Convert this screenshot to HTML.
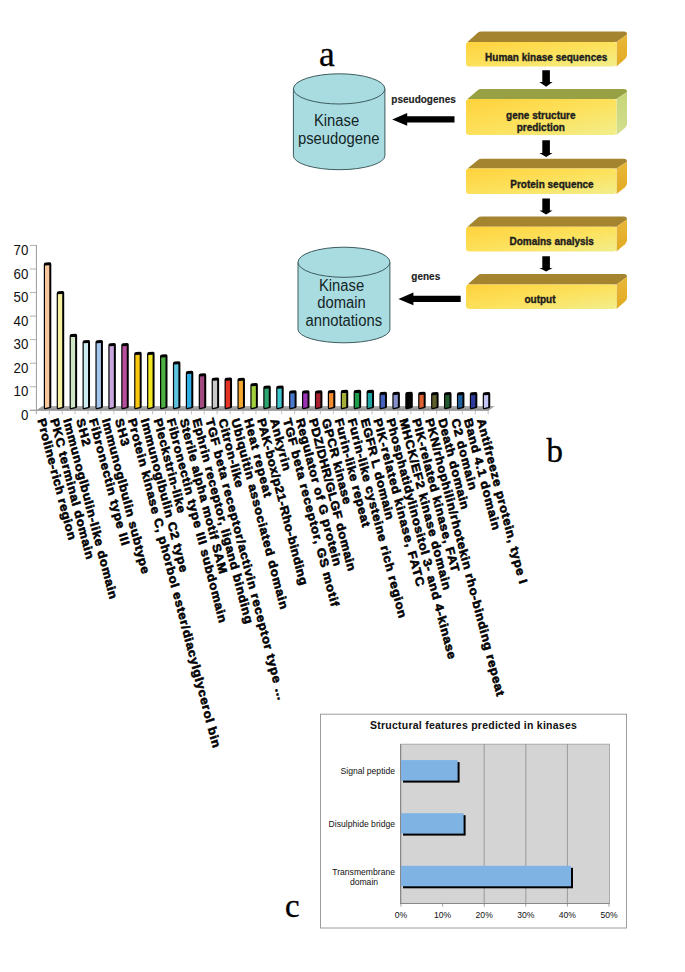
<!DOCTYPE html>
<html><head><meta charset="utf-8">
<style>
html,body{margin:0;padding:0;background:#fff;}
body{width:685px;height:972px;overflow:hidden;position:relative;font-family:"Liberation Sans",sans-serif;}
svg{position:absolute;left:0;top:0;}
</style></head>
<body>
<svg width="685" height="972" viewBox="0 0 685 972">
<defs>
<linearGradient id="fy" x1="0" y1="0" x2="1" y2="1">
<stop offset="0" stop-color="#FFD23C"/><stop offset="0.55" stop-color="#FCE25E"/><stop offset="1" stop-color="#F2EE8C"/>
</linearGradient>
<linearGradient id="sy" x1="0" y1="0" x2="0" y2="1">
<stop offset="0" stop-color="#E9B83A"/><stop offset="1" stop-color="#E2AA22"/>
</linearGradient>
<linearGradient id="sg" x1="0" y1="0" x2="0" y2="1">
<stop offset="0" stop-color="#C6D478"/><stop offset="1" stop-color="#D4E08E"/>
</linearGradient>
<linearGradient id="floor" x1="0" y1="0" x2="0" y2="1">
<stop offset="0" stop-color="#B4B4B4"/><stop offset="1" stop-color="#8C8C8C"/>
</linearGradient>
</defs>

<text x="319" y="65.6" font-family="Liberation Serif" font-size="35.5" fill="#000" stroke="#000" stroke-width="0.3">a</text>
<path d="M467.5,42.0 L478.0,32.6 Q479.0,31.4 481.5,31.4 L624.0,31.4 Q627.0,31.4 627.0,34.4 L616.5,42.0 Z" fill="#A4842F"/>
<path d="M616.5,42.0 L627.0,34.4 L627.0,54.9 Q627.0,56.9 625.0,58.9 L616.5,66.5 Z" fill="url(#sy)"/>
<rect x="466.0" y="42.0" width="150.5" height="24.5" rx="3" ry="3" fill="url(#fy)"/>
<text x="546.2" y="60.5" font-family="Liberation Sans" font-weight="bold" font-size="10" fill="#1c1c1c" stroke="#1c1c1c" stroke-width="0.35" text-anchor="middle">Human kinase sequences</text>
<path d="M467.5,99.0 L478.0,90.10000000000001 Q479.0,88.9 481.5,88.9 L624.0,88.9 Q627.0,88.9 627.0,91.9 L616.5,99.0 Z" fill="#97A042"/>
<path d="M616.5,99.0 L627.0,91.9 L627.0,123.9 Q627.0,125.9 625.0,127.9 L616.5,135.0 Z" fill="url(#sg)"/>
<rect x="466.0" y="99.0" width="150.5" height="36.0" rx="3" ry="3" fill="url(#fy)"/>
<text x="540.8" y="119.3" font-family="Liberation Sans" font-weight="bold" font-size="10" fill="#1c1c1c" stroke="#1c1c1c" stroke-width="0.35" text-anchor="middle">gene structure</text>
<text x="540.8" y="131.2" font-family="Liberation Sans" font-weight="bold" font-size="10" fill="#1c1c1c" stroke="#1c1c1c" stroke-width="0.35" text-anchor="middle">prediction</text>
<path d="M467.5,168.6 L478.0,160.0 Q479.0,158.8 481.5,158.8 L624.0,158.8 Q627.0,158.8 627.0,161.8 L616.5,168.6 Z" fill="#A4842F"/>
<path d="M616.5,168.6 L627.0,161.8 L627.0,183.20000000000002 Q627.0,185.20000000000002 625.0,187.20000000000002 L616.5,194.0 Z" fill="url(#sy)"/>
<rect x="466.0" y="168.6" width="150.5" height="25.400000000000006" rx="3" ry="3" fill="url(#fy)"/>
<text x="552.0" y="187.8" font-family="Liberation Sans" font-weight="bold" font-size="10" fill="#1c1c1c" stroke="#1c1c1c" stroke-width="0.35" text-anchor="middle">Protein sequence</text>
<path d="M467.5,226.7 L478.0,217.6 Q479.0,216.4 481.5,216.4 L624.0,216.4 Q627.0,216.4 627.0,219.4 L616.5,226.7 Z" fill="#A4842F"/>
<path d="M616.5,226.7 L627.0,219.4 L627.0,240.20000000000002 Q627.0,242.20000000000002 625.0,244.20000000000002 L616.5,251.5 Z" fill="url(#sy)"/>
<rect x="466.0" y="226.7" width="150.5" height="24.80000000000001" rx="3" ry="3" fill="url(#fy)"/>
<text x="551.7" y="245.3" font-family="Liberation Sans" font-weight="bold" font-size="10" fill="#1c1c1c" stroke="#1c1c1c" stroke-width="0.35" text-anchor="middle">Domains analysis</text>
<path d="M467.5,284.4 L478.0,275.3 Q479.0,274.1 481.5,274.1 L624.0,274.1 Q627.0,274.1 627.0,277.1 L616.5,284.4 Z" fill="#A4842F"/>
<path d="M616.5,284.4 L627.0,277.1 L627.0,297.6 Q627.0,299.6 625.0,301.6 L616.5,308.9 Z" fill="url(#sy)"/>
<rect x="466.0" y="284.4" width="150.5" height="24.5" rx="3" ry="3" fill="url(#fy)"/>
<text x="540.0" y="303.0" font-family="Liberation Sans" font-weight="bold" font-size="10" fill="#1c1c1c" stroke="#1c1c1c" stroke-width="0.35" text-anchor="middle">output</text>
<path d="M542.3,70.3 H549.9 V82.1 H552.6 L546.1,86.7 L539.4,82.1 H542.3 Z" fill="#000"/>
<path d="M542.3,140.2 H549.9 V153.0 H552.6 L546.1,156.9 L539.4,153.0 H542.3 Z" fill="#000"/>
<path d="M542.3,198.5 H549.9 V210.4 H552.6 L546.1,214.5 L539.4,210.4 H542.3 Z" fill="#000"/>
<path d="M542.3,256.2 H549.9 V267.9 H552.6 L546.1,271.6 L539.4,267.9 H542.3 Z" fill="#000"/>
<path d="M392.2,119.4 L407.2,113.0 V116.2 H454.5 V122.60000000000001 H407.2 V125.80000000000001 Z" fill="#000"/>
<path d="M398.4,298.9 L413.4,292.5 V295.7 H460.7 V302.09999999999997 H413.4 V305.29999999999995 Z" fill="#000"/>
<text x="391.3" y="103.4" font-family="Liberation Sans" font-weight="bold" font-size="10" fill="#1c1c1c" stroke="#1c1c1c" stroke-width="0.15">pseudogenes</text>
<text x="411.3" y="280.2" font-family="Liberation Sans" font-weight="bold" font-size="10" fill="#1c1c1c" stroke="#1c1c1c" stroke-width="0.15">genes</text>
<path d="M293.4,88.9 V155.7 A45.75,14.0 0 0 0 384.9,155.7 V88.9 Z" fill="#A9DCE1" stroke="#3D5B5E" stroke-width="1"/>
<ellipse cx="339.15" cy="88.9" rx="45.75" ry="15.100000000000001" fill="#A9DCE1" stroke="#3D5B5E" stroke-width="1"/>
<text transform="translate(336.55,126.1) scale(0.95,1)" font-family="Liberation Sans" font-size="15.6" fill="#142626" text-anchor="middle">Kinase</text>
<text transform="translate(338.65,143.6) scale(0.95,1)" font-family="Liberation Sans" font-size="15.6" fill="#142626" text-anchor="middle">pseudogene</text>
<path d="M298.0,262.25 V329.5 A45.94999999999999,13.3 0 0 0 389.9,329.5 V262.25 Z" fill="#A9DCE1" stroke="#3D5B5E" stroke-width="1"/>
<ellipse cx="343.95" cy="262.25" rx="45.94999999999999" ry="15.050000000000011" fill="#A9DCE1" stroke="#3D5B5E" stroke-width="1"/>
<text transform="translate(341.55,290.6) scale(0.95,1)" font-family="Liberation Sans" font-size="15.6" fill="#142626" text-anchor="middle">Kinase</text>
<text transform="translate(341.55,307.9) scale(0.95,1)" font-family="Liberation Sans" font-size="15.6" fill="#142626" text-anchor="middle">domain</text>
<text transform="translate(343.75,326.1) scale(0.95,1)" font-family="Liberation Sans" font-size="15.6" fill="#142626" text-anchor="middle">annotations</text>
<text x="546.4" y="461.9" font-family="Liberation Serif" font-size="32.9" fill="#000" stroke="#000" stroke-width="0.35">b</text>
<line x1="36.4" y1="413.8" x2="36.4" y2="245" stroke="#9a9a9a" stroke-width="1"/>
<line x1="29.9" y1="410.3" x2="36.4" y2="410.3" stroke="#a0a0a0" stroke-width="0.8"/>
<text transform="translate(28.3,419.80) scale(0.925,1)" font-family="Liberation Sans" font-size="14.4" fill="#111" text-anchor="end">0</text>
<line x1="29.9" y1="386.75" x2="36.4" y2="386.75" stroke="#a0a0a0" stroke-width="0.8"/>
<text transform="translate(28.3,396.25) scale(0.925,1)" font-family="Liberation Sans" font-size="14.4" fill="#111" text-anchor="end">10</text>
<line x1="29.9" y1="363.2" x2="36.4" y2="363.2" stroke="#a0a0a0" stroke-width="0.8"/>
<text transform="translate(28.3,372.70) scale(0.925,1)" font-family="Liberation Sans" font-size="14.4" fill="#111" text-anchor="end">20</text>
<line x1="29.9" y1="339.65" x2="36.4" y2="339.65" stroke="#a0a0a0" stroke-width="0.8"/>
<text transform="translate(28.3,349.15) scale(0.925,1)" font-family="Liberation Sans" font-size="14.4" fill="#111" text-anchor="end">30</text>
<line x1="29.9" y1="316.1" x2="36.4" y2="316.1" stroke="#a0a0a0" stroke-width="0.8"/>
<text transform="translate(28.3,325.60) scale(0.925,1)" font-family="Liberation Sans" font-size="14.4" fill="#111" text-anchor="end">40</text>
<line x1="29.9" y1="292.55" x2="36.4" y2="292.55" stroke="#a0a0a0" stroke-width="0.8"/>
<text transform="translate(28.3,302.05) scale(0.925,1)" font-family="Liberation Sans" font-size="14.4" fill="#111" text-anchor="end">50</text>
<line x1="29.9" y1="269.0" x2="36.4" y2="269.0" stroke="#a0a0a0" stroke-width="0.8"/>
<text transform="translate(28.3,278.50) scale(0.925,1)" font-family="Liberation Sans" font-size="14.4" fill="#111" text-anchor="end">60</text>
<line x1="29.9" y1="245.45000000000002" x2="36.4" y2="245.45000000000002" stroke="#a0a0a0" stroke-width="0.8"/>
<text transform="translate(28.3,254.95) scale(0.925,1)" font-family="Liberation Sans" font-size="14.4" fill="#111" text-anchor="end">70</text>
<path d="M36.4,410.3 L42.4,406.1 L495,406.1 L489,410.3 Z" fill="url(#floor)"/>
<line x1="29.9" y1="410.3" x2="489" y2="410.3" stroke="#9a9a9a" stroke-width="1"/>
<line x1="36.4" y1="410.3" x2="36.4" y2="414.3" stroke="#b0b0b0" stroke-width="0.8"/>
<line x1="49.3" y1="410.3" x2="49.3" y2="414.3" stroke="#b0b0b0" stroke-width="0.8"/>
<line x1="62.2" y1="410.3" x2="62.2" y2="414.3" stroke="#b0b0b0" stroke-width="0.8"/>
<line x1="75.1" y1="410.3" x2="75.1" y2="414.3" stroke="#b0b0b0" stroke-width="0.8"/>
<line x1="88.0" y1="410.3" x2="88.0" y2="414.3" stroke="#b0b0b0" stroke-width="0.8"/>
<line x1="100.9" y1="410.3" x2="100.9" y2="414.3" stroke="#b0b0b0" stroke-width="0.8"/>
<line x1="113.9" y1="410.3" x2="113.9" y2="414.3" stroke="#b0b0b0" stroke-width="0.8"/>
<line x1="126.8" y1="410.3" x2="126.8" y2="414.3" stroke="#b0b0b0" stroke-width="0.8"/>
<line x1="139.7" y1="410.3" x2="139.7" y2="414.3" stroke="#b0b0b0" stroke-width="0.8"/>
<line x1="152.6" y1="410.3" x2="152.6" y2="414.3" stroke="#b0b0b0" stroke-width="0.8"/>
<line x1="165.5" y1="410.3" x2="165.5" y2="414.3" stroke="#b0b0b0" stroke-width="0.8"/>
<line x1="178.4" y1="410.3" x2="178.4" y2="414.3" stroke="#b0b0b0" stroke-width="0.8"/>
<line x1="191.3" y1="410.3" x2="191.3" y2="414.3" stroke="#b0b0b0" stroke-width="0.8"/>
<line x1="204.2" y1="410.3" x2="204.2" y2="414.3" stroke="#b0b0b0" stroke-width="0.8"/>
<line x1="217.1" y1="410.3" x2="217.1" y2="414.3" stroke="#b0b0b0" stroke-width="0.8"/>
<line x1="230.1" y1="410.3" x2="230.1" y2="414.3" stroke="#b0b0b0" stroke-width="0.8"/>
<line x1="243.0" y1="410.3" x2="243.0" y2="414.3" stroke="#b0b0b0" stroke-width="0.8"/>
<line x1="255.9" y1="410.3" x2="255.9" y2="414.3" stroke="#b0b0b0" stroke-width="0.8"/>
<line x1="268.8" y1="410.3" x2="268.8" y2="414.3" stroke="#b0b0b0" stroke-width="0.8"/>
<line x1="281.7" y1="410.3" x2="281.7" y2="414.3" stroke="#b0b0b0" stroke-width="0.8"/>
<line x1="294.6" y1="410.3" x2="294.6" y2="414.3" stroke="#b0b0b0" stroke-width="0.8"/>
<line x1="307.5" y1="410.3" x2="307.5" y2="414.3" stroke="#b0b0b0" stroke-width="0.8"/>
<line x1="320.4" y1="410.3" x2="320.4" y2="414.3" stroke="#b0b0b0" stroke-width="0.8"/>
<line x1="333.3" y1="410.3" x2="333.3" y2="414.3" stroke="#b0b0b0" stroke-width="0.8"/>
<line x1="346.2" y1="410.3" x2="346.2" y2="414.3" stroke="#b0b0b0" stroke-width="0.8"/>
<line x1="359.1" y1="410.3" x2="359.1" y2="414.3" stroke="#b0b0b0" stroke-width="0.8"/>
<line x1="372.1" y1="410.3" x2="372.1" y2="414.3" stroke="#b0b0b0" stroke-width="0.8"/>
<line x1="385.0" y1="410.3" x2="385.0" y2="414.3" stroke="#b0b0b0" stroke-width="0.8"/>
<line x1="397.9" y1="410.3" x2="397.9" y2="414.3" stroke="#b0b0b0" stroke-width="0.8"/>
<line x1="410.8" y1="410.3" x2="410.8" y2="414.3" stroke="#b0b0b0" stroke-width="0.8"/>
<line x1="423.7" y1="410.3" x2="423.7" y2="414.3" stroke="#b0b0b0" stroke-width="0.8"/>
<line x1="436.6" y1="410.3" x2="436.6" y2="414.3" stroke="#b0b0b0" stroke-width="0.8"/>
<line x1="449.5" y1="410.3" x2="449.5" y2="414.3" stroke="#b0b0b0" stroke-width="0.8"/>
<line x1="462.4" y1="410.3" x2="462.4" y2="414.3" stroke="#b0b0b0" stroke-width="0.8"/>
<line x1="475.3" y1="410.3" x2="475.3" y2="414.3" stroke="#b0b0b0" stroke-width="0.8"/>
<line x1="488.2" y1="410.3" x2="488.2" y2="414.3" stroke="#b0b0b0" stroke-width="0.8"/>
<path d="M43.80,264.5 Q43.80,262.5 45.80,262.5 L49.80,262.2 Q51.30,262.2 51.30,264.0 L51.30,406.8 Q51.30,408.1 49.80,408.3 L45.30,409.3 Q43.80,409.3 43.80,407.8 Z" fill="#000"/>
<path d="M45.00,265.5 L49.30,265.3 L49.30,407.0 L45.00,407.90000000000003 Z" fill="#F8C79C"/>
<path d="M56.71,293.2 Q56.71,291.2 58.71,291.2 L62.71,290.9 Q64.21,290.9 64.21,292.7 L64.21,406.8 Q64.21,408.1 62.71,408.3 L58.21,409.3 Q56.71,409.3 56.71,407.8 Z" fill="#000"/>
<path d="M57.91,294.2 L62.21,294.0 L62.21,407.0 L57.91,407.90000000000003 Z" fill="#F8F0A2"/>
<path d="M69.62,336.1 Q69.62,334.1 71.62,334.1 L75.62,333.8 Q77.12,333.8 77.12,335.6 L77.12,406.8 Q77.12,408.1 75.62,408.3 L71.12,409.3 Q69.62,409.3 69.62,407.8 Z" fill="#000"/>
<path d="M70.82,337.1 L75.12,336.90000000000003 L75.12,407.0 L70.82,407.90000000000003 Z" fill="#CFE6C6"/>
<path d="M82.53,342.3 Q82.53,340.3 84.53,340.3 L88.53,340.0 Q90.03,340.0 90.03,341.8 L90.03,406.8 Q90.03,408.1 88.53,408.3 L84.03,409.3 Q82.53,409.3 82.53,407.8 Z" fill="#000"/>
<path d="M83.73,343.3 L88.03,343.1 L88.03,407.0 L83.73,407.90000000000003 Z" fill="#CDEDF0"/>
<path d="M95.44,342.3 Q95.44,340.3 97.44,340.3 L101.44,340.0 Q102.94,340.0 102.94,341.8 L102.94,406.8 Q102.94,408.1 101.44,408.3 L96.94,409.3 Q95.44,409.3 95.44,407.8 Z" fill="#000"/>
<path d="M96.64,343.3 L100.94,343.1 L100.94,407.0 L96.64,407.90000000000003 Z" fill="#A6C8F0"/>
<path d="M108.35,345.2 Q108.35,343.2 110.35,343.2 L114.35,342.9 Q115.85,342.9 115.85,344.7 L115.85,406.8 Q115.85,408.1 114.35,408.3 L109.85,409.3 Q108.35,409.3 108.35,407.8 Z" fill="#000"/>
<path d="M109.55,346.2 L113.85,346.0 L113.85,407.0 L109.55,407.90000000000003 Z" fill="#C9A6DE"/>
<path d="M121.26,345.2 Q121.26,343.2 123.26,343.2 L127.26,342.9 Q128.76,342.9 128.76,344.7 L128.76,406.8 Q128.76,408.1 127.26,408.3 L122.76,409.3 Q121.26,409.3 121.26,407.8 Z" fill="#000"/>
<path d="M122.46,346.2 L126.76,346.0 L126.76,407.0 L122.46,407.90000000000003 Z" fill="#B8509E"/>
<path d="M134.17,354 Q134.17,352 136.17,352 L140.17,351.7 Q141.67,351.7 141.67,353.5 L141.67,406.8 Q141.67,408.1 140.17,408.3 L135.67,409.3 Q134.17,409.3 134.17,407.8 Z" fill="#000"/>
<path d="M135.37,355.0 L139.67,354.8 L139.67,407.0 L135.37,407.90000000000003 Z" fill="#F9C80E"/>
<path d="M147.08,354 Q147.08,352 149.08,352 L153.08,351.7 Q154.58,351.7 154.58,353.5 L154.58,406.8 Q154.58,408.1 153.08,408.3 L148.58,409.3 Q147.08,409.3 147.08,407.8 Z" fill="#000"/>
<path d="M148.28,355.0 L152.58,354.8 L152.58,407.0 L148.28,407.90000000000003 Z" fill="#F2E824"/>
<path d="M159.99,356.5 Q159.99,354.5 161.99,354.5 L165.99,354.2 Q167.49,354.2 167.49,356.0 L167.49,406.8 Q167.49,408.1 165.99,408.3 L161.49,409.3 Q159.99,409.3 159.99,407.8 Z" fill="#000"/>
<path d="M161.19,357.5 L165.49,357.3 L165.49,407.0 L161.19,407.90000000000003 Z" fill="#4DAE43"/>
<path d="M172.90,363.5 Q172.90,361.5 174.90,361.5 L178.90,361.2 Q180.40,361.2 180.40,363.0 L180.40,406.8 Q180.40,408.1 178.90,408.3 L174.40,409.3 Q172.90,409.3 172.90,407.8 Z" fill="#000"/>
<path d="M174.10,364.5 L178.40,364.3 L178.40,407.0 L174.10,407.90000000000003 Z" fill="#5EC4E0"/>
<path d="M185.81,373 Q185.81,371 187.81,371 L191.81,370.7 Q193.31,370.7 193.31,372.5 L193.31,406.8 Q193.31,408.1 191.81,408.3 L187.31,409.3 Q185.81,409.3 185.81,407.8 Z" fill="#000"/>
<path d="M187.01,374.0 L191.31,373.8 L191.31,407.0 L187.01,407.90000000000003 Z" fill="#2FAEE6"/>
<path d="M198.72,375.5 Q198.72,373.5 200.72,373.5 L204.72,373.2 Q206.22,373.2 206.22,375.0 L206.22,406.8 Q206.22,408.1 204.72,408.3 L200.22,409.3 Q198.72,409.3 198.72,407.8 Z" fill="#000"/>
<path d="M199.92,376.5 L204.22,376.3 L204.22,407.0 L199.92,407.90000000000003 Z" fill="#A04A80"/>
<path d="M211.63,379.8 Q211.63,377.8 213.63,377.8 L217.63,377.5 Q219.13,377.5 219.13,379.3 L219.13,406.8 Q219.13,408.1 217.63,408.3 L213.13,409.3 Q211.63,409.3 211.63,407.8 Z" fill="#000"/>
<path d="M212.83,380.8 L217.13,380.6 L217.13,407.0 L212.83,407.90000000000003 Z" fill="#C9C9C9"/>
<path d="M224.54,379.8 Q224.54,377.8 226.54,377.8 L230.54,377.5 Q232.04,377.5 232.04,379.3 L232.04,406.8 Q232.04,408.1 230.54,408.3 L226.04,409.3 Q224.54,409.3 224.54,407.8 Z" fill="#000"/>
<path d="M225.74,380.8 L230.04,380.6 L230.04,407.0 L225.74,407.90000000000003 Z" fill="#E43224"/>
<path d="M237.45,380 Q237.45,378 239.45,378 L243.45,377.7 Q244.95,377.7 244.95,379.5 L244.95,406.8 Q244.95,408.1 243.45,408.3 L238.95,409.3 Q237.45,409.3 237.45,407.8 Z" fill="#000"/>
<path d="M238.65,381.0 L242.95,380.8 L242.95,407.0 L238.65,407.90000000000003 Z" fill="#F5A830"/>
<path d="M250.36,385.2 Q250.36,383.2 252.36,383.2 L256.36,382.9 Q257.86,382.9 257.86,384.7 L257.86,406.8 Q257.86,408.1 256.36,408.3 L251.86,409.3 Q250.36,409.3 250.36,407.8 Z" fill="#000"/>
<path d="M251.56,386.2 L255.86,386.0 L255.86,407.0 L251.56,407.90000000000003 Z" fill="#A2CF3E"/>
<path d="M263.27,387.7 Q263.27,385.7 265.27,385.7 L269.27,385.4 Q270.77,385.4 270.77,387.2 L270.77,406.8 Q270.77,408.1 269.27,408.3 L264.77,409.3 Q263.27,409.3 263.27,407.8 Z" fill="#000"/>
<path d="M264.47,388.7 L268.77,388.5 L268.77,407.0 L264.47,407.90000000000003 Z" fill="#2FA670"/>
<path d="M276.18,387.7 Q276.18,385.7 278.18,385.7 L282.18,385.4 Q283.68,385.4 283.68,387.2 L283.68,406.8 Q283.68,408.1 282.18,408.3 L277.68,409.3 Q276.18,409.3 276.18,407.8 Z" fill="#000"/>
<path d="M277.38,388.7 L281.68,388.5 L281.68,407.0 L277.38,407.90000000000003 Z" fill="#3EC6CE"/>
<path d="M289.09,392.5 Q289.09,390.5 291.09,390.5 L295.09,390.2 Q296.59,390.2 296.59,392.0 L296.59,406.8 Q296.59,408.1 295.09,408.3 L290.59,409.3 Q289.09,409.3 289.09,407.8 Z" fill="#000"/>
<path d="M290.29,393.5 L294.59,393.3 L294.59,407.0 L290.29,407.90000000000003 Z" fill="#4A78CC"/>
<path d="M302.00,392.5 Q302.00,390.5 304.00,390.5 L308.00,390.2 Q309.50,390.2 309.50,392.0 L309.50,406.8 Q309.50,408.1 308.00,408.3 L303.50,409.3 Q302.00,409.3 302.00,407.8 Z" fill="#000"/>
<path d="M303.20,393.5 L307.50,393.3 L307.50,407.0 L303.20,407.90000000000003 Z" fill="#9A34B4"/>
<path d="M314.91,392.5 Q314.91,390.5 316.91,390.5 L320.91,390.2 Q322.41,390.2 322.41,392.0 L322.41,406.8 Q322.41,408.1 320.91,408.3 L316.41,409.3 Q314.91,409.3 314.91,407.8 Z" fill="#000"/>
<path d="M316.11,393.5 L320.41,393.3 L320.41,407.0 L316.11,407.90000000000003 Z" fill="#A82030"/>
<path d="M327.82,392.3 Q327.82,390.3 329.82,390.3 L333.82,390.0 Q335.32,390.0 335.32,391.8 L335.32,406.8 Q335.32,408.1 333.82,408.3 L329.32,409.3 Q327.82,409.3 327.82,407.8 Z" fill="#000"/>
<path d="M329.02,393.3 L333.32,393.1 L333.32,407.0 L329.02,407.90000000000003 Z" fill="#F28C30"/>
<path d="M340.73,392.1 Q340.73,390.1 342.73,390.1 L346.73,389.8 Q348.23,389.8 348.23,391.6 L348.23,406.8 Q348.23,408.1 346.73,408.3 L342.23,409.3 Q340.73,409.3 340.73,407.8 Z" fill="#000"/>
<path d="M341.93,393.1 L346.23,392.90000000000003 L346.23,407.0 L341.93,407.90000000000003 Z" fill="#A6AE3A"/>
<path d="M353.64,392.1 Q353.64,390.1 355.64,390.1 L359.64,389.8 Q361.14,389.8 361.14,391.6 L361.14,406.8 Q361.14,408.1 359.64,408.3 L355.14,409.3 Q353.64,409.3 353.64,407.8 Z" fill="#000"/>
<path d="M354.84,393.1 L359.14,392.90000000000003 L359.14,407.0 L354.84,407.90000000000003 Z" fill="#1E9E4C"/>
<path d="M366.55,392.1 Q366.55,390.1 368.55,390.1 L372.55,389.8 Q374.05,389.8 374.05,391.6 L374.05,406.8 Q374.05,408.1 372.55,408.3 L368.05,409.3 Q366.55,409.3 366.55,407.8 Z" fill="#000"/>
<path d="M367.75,393.1 L372.05,392.90000000000003 L372.05,407.0 L367.75,407.90000000000003 Z" fill="#1FA6A4"/>
<path d="M379.46,394 Q379.46,392 381.46,392 L385.46,391.7 Q386.96,391.7 386.96,393.5 L386.96,406.8 Q386.96,408.1 385.46,408.3 L380.96,409.3 Q379.46,409.3 379.46,407.8 Z" fill="#000"/>
<path d="M380.66,395.0 L384.96,394.8 L384.96,407.0 L380.66,407.90000000000003 Z" fill="#4262BE"/>
<path d="M392.37,394 Q392.37,392 394.37,392 L398.37,391.7 Q399.87,391.7 399.87,393.5 L399.87,406.8 Q399.87,408.1 398.37,408.3 L393.87,409.3 Q392.37,409.3 392.37,407.8 Z" fill="#000"/>
<path d="M393.57,395.0 L397.87,394.8 L397.87,407.0 L393.57,407.90000000000003 Z" fill="#8890CE"/>
<path d="M405.28,394 Q405.28,392 407.28,392 L411.28,391.7 Q412.78,391.7 412.78,393.5 L412.78,406.8 Q412.78,408.1 411.28,408.3 L406.78,409.3 Q405.28,409.3 405.28,407.8 Z" fill="#000"/>
<path d="M406.48,395.0 L410.78,394.8 L410.78,407.0 L406.48,407.90000000000003 Z" fill="#050505"/>
<path d="M418.19,394 Q418.19,392 420.19,392 L424.19,391.7 Q425.69,391.7 425.69,393.5 L425.69,406.8 Q425.69,408.1 424.19,408.3 L419.69,409.3 Q418.19,409.3 418.19,407.8 Z" fill="#000"/>
<path d="M419.39,395.0 L423.69,394.8 L423.69,407.0 L419.39,407.90000000000003 Z" fill="#DC6032"/>
<path d="M431.10,394.3 Q431.10,392.3 433.10,392.3 L437.10,392.0 Q438.60,392.0 438.60,393.8 L438.60,406.8 Q438.60,408.1 437.10,408.3 L432.60,409.3 Q431.10,409.3 431.10,407.8 Z" fill="#000"/>
<path d="M432.30,395.3 L436.60,395.1 L436.60,407.0 L432.30,407.90000000000003 Z" fill="#60602E"/>
<path d="M444.01,394.3 Q444.01,392.3 446.01,392.3 L450.01,392.0 Q451.51,392.0 451.51,393.8 L451.51,406.8 Q451.51,408.1 450.01,408.3 L445.51,409.3 Q444.01,409.3 444.01,407.8 Z" fill="#000"/>
<path d="M445.21,395.3 L449.51,395.1 L449.51,407.0 L445.21,407.90000000000003 Z" fill="#235A30"/>
<path d="M456.92,394.3 Q456.92,392.3 458.92,392.3 L462.92,392.0 Q464.42,392.0 464.42,393.8 L464.42,406.8 Q464.42,408.1 462.92,408.3 L458.42,409.3 Q456.92,409.3 456.92,407.8 Z" fill="#000"/>
<path d="M458.12,395.3 L462.42,395.1 L462.42,407.0 L458.12,407.90000000000003 Z" fill="#2062A0"/>
<path d="M469.83,394.3 Q469.83,392.3 471.83,392.3 L475.83,392.0 Q477.33,392.0 477.33,393.8 L477.33,406.8 Q477.33,408.1 475.83,408.3 L471.33,409.3 Q469.83,409.3 469.83,407.8 Z" fill="#000"/>
<path d="M471.03,395.3 L475.33,395.1 L475.33,407.0 L471.03,407.90000000000003 Z" fill="#2E3C9E"/>
<path d="M482.74,394.3 Q482.74,392.3 484.74,392.3 L488.74,392.0 Q490.24,392.0 490.24,393.8 L490.24,406.8 Q490.24,408.1 488.74,408.3 L484.24,409.3 Q482.74,409.3 482.74,407.8 Z" fill="#000"/>
<path d="M483.94,395.3 L488.24,395.1 L488.24,407.0 L483.94,407.90000000000003 Z" fill="#C6C6F4"/>
<g font-family="Liberation Sans" font-weight="bold" font-size="13.2" fill="#000" stroke="#000" stroke-width="0.6">
<text transform="translate(37.40,420.0) scale(0.9,1) rotate(73.968)" letter-spacing="0.466">Proline-rich region</text>
<text transform="translate(50.33,420.0) scale(0.9,1) rotate(73.968)" letter-spacing="0.677">PKC terminal domain</text>
<text transform="translate(63.26,420.0) scale(0.9,1) rotate(73.968)" letter-spacing="0.653">Immunoglbulin-like domain</text>
<text transform="translate(76.19,420.0) scale(0.9,1) rotate(73.968)" letter-spacing="1.172">SH2</text>
<text transform="translate(89.12,420.0) scale(0.9,1) rotate(73.968)" letter-spacing="0.749">Fibronectin type III</text>
<text transform="translate(102.05,420.0) scale(0.9,1) rotate(73.968)" letter-spacing="0.599">Immunoglbulin subtype</text>
<text transform="translate(114.98,420.0) scale(0.9,1) rotate(73.968)" letter-spacing="1.172">SH3</text>
<text transform="translate(127.91,420.0) scale(0.9,1) rotate(73.968)" letter-spacing="0.650">Protein kinase C, phorbol ester/diacylglycerol bin</text>
<text transform="translate(140.84,420.0) scale(0.9,1) rotate(73.968)" letter-spacing="0.666">Immunoglbulin C2 type</text>
<text transform="translate(153.77,420.0) scale(0.9,1) rotate(73.968)" letter-spacing="0.584">Pleckstrin-like</text>
<text transform="translate(166.70,420.0) scale(0.9,1) rotate(73.968)" letter-spacing="0.707">Fibronectin type III subdomain</text>
<text transform="translate(179.63,420.0) scale(0.9,1) rotate(73.968)" letter-spacing="0.612">Sterile alpha motif SAM</text>
<text transform="translate(192.56,420.0) scale(0.9,1) rotate(73.968)" letter-spacing="0.593">Ephrin receptor, ligand binding</text>
<text transform="translate(205.49,420.0) scale(0.9,1) rotate(73.968)" letter-spacing="0.739">TGF beta receptor/activin receptor type &#8230;</text>
<text transform="translate(218.42,420.0) scale(0.9,1) rotate(73.968)" letter-spacing="0.596">Citron-like</text>
<text transform="translate(231.35,420.0) scale(0.9,1) rotate(73.968)" letter-spacing="0.697">Ubiquitin associated domain</text>
<text transform="translate(244.28,420.0) scale(0.9,1) rotate(73.968)" letter-spacing="0.918">Heat repeat</text>
<text transform="translate(257.21,420.0) scale(0.9,1) rotate(73.968)" letter-spacing="0.435">PAK-box/p21-Rho-binding</text>
<text transform="translate(270.14,420.0) scale(0.9,1) rotate(73.968)" letter-spacing="0.748">Ankyrin</text>
<text transform="translate(283.07,420.0) scale(0.9,1) rotate(73.968)" letter-spacing="0.751">TGF beta receptor, GS motif</text>
<text transform="translate(296.00,420.0) scale(0.9,1) rotate(73.968)" letter-spacing="0.609">Regulator of G protein</text>
<text transform="translate(308.93,420.0) scale(0.9,1) rotate(73.968)" letter-spacing="0.462">PDZ/DHR/GLGF domain</text>
<text transform="translate(321.86,420.0) scale(0.9,1) rotate(73.968)" letter-spacing="0.575">GPCR kinase</text>
<text transform="translate(334.79,420.0) scale(0.9,1) rotate(73.968)" letter-spacing="0.586">Furin-like repeat</text>
<text transform="translate(347.72,420.0) scale(0.9,1) rotate(73.968)" letter-spacing="0.638">Furin-like cysteine rich region</text>
<text transform="translate(360.65,420.0) scale(0.9,1) rotate(73.968)" letter-spacing="0.484">EGFR L domain</text>
<text transform="translate(373.58,420.0) scale(0.9,1) rotate(73.968)" letter-spacing="0.813">PIK-related kinase, FATC</text>
<text transform="translate(386.51,420.0) scale(0.9,1) rotate(73.968)" letter-spacing="0.597">Phosphatidylinositol 3- and 4-kinase</text>
<text transform="translate(399.44,420.0) scale(0.9,1) rotate(73.968)" letter-spacing="0.708">MHCK/EF2 kinase domain</text>
<text transform="translate(412.37,420.0) scale(0.9,1) rotate(73.968)" letter-spacing="0.605">PIK-related kinase, FAT</text>
<text transform="translate(425.30,420.0) scale(0.9,1) rotate(73.968)" letter-spacing="0.602">PKN/rhophilin/rhotekin rho-binding repeat</text>
<text transform="translate(438.23,420.0) scale(0.9,1) rotate(73.968)" letter-spacing="0.587">Death domain</text>
<text transform="translate(451.16,420.0) scale(0.9,1) rotate(73.968)" letter-spacing="0.770">C2 domain</text>
<text transform="translate(464.09,420.0) scale(0.9,1) rotate(73.968)" letter-spacing="0.689">Band 4.1 domain</text>
<text transform="translate(477.02,420.0) scale(0.9,1) rotate(73.968)" letter-spacing="0.695">Antifreeze protein, type I</text>
</g>
<text x="284.9" y="916.5" font-family="Liberation Serif" font-size="32.8" fill="#000" stroke="#000" stroke-width="0.35">c</text>
<rect x="320.5" y="714.2" width="306" height="213.8" fill="#fff" stroke="#9c9c9c" stroke-width="1"/>
<rect x="401" y="744.2" width="208.5" height="159.3" fill="#D4D4D4" stroke="#A4A4A4" stroke-width="0.9"/>
<line x1="484.2" y1="744" x2="484.2" y2="903.5" stroke="#8c8c8c" stroke-width="0.8"/>
<line x1="525.8" y1="744" x2="525.8" y2="903.5" stroke="#8c8c8c" stroke-width="0.8"/>
<line x1="567.4" y1="744" x2="567.4" y2="903.5" stroke="#8c8c8c" stroke-width="0.8"/>
<line x1="400.5" y1="744" x2="400.5" y2="904" stroke="#888" stroke-width="1"/>
<line x1="400.5" y1="903.5" x2="609.5" y2="903.5" stroke="#888" stroke-width="1"/>
<line x1="401.0" y1="903.5" x2="401.0" y2="906.5" stroke="#888" stroke-width="0.8"/>
<line x1="442.6" y1="903.5" x2="442.6" y2="906.5" stroke="#888" stroke-width="0.8"/>
<line x1="484.2" y1="903.5" x2="484.2" y2="906.5" stroke="#888" stroke-width="0.8"/>
<line x1="525.8" y1="903.5" x2="525.8" y2="906.5" stroke="#888" stroke-width="0.8"/>
<line x1="567.4" y1="903.5" x2="567.4" y2="906.5" stroke="#888" stroke-width="0.8"/>
<line x1="609.0" y1="903.5" x2="609.0" y2="906.5" stroke="#888" stroke-width="0.8"/>
<text x="473.5" y="728.8" font-family="Liberation Sans" font-weight="bold" font-size="10.5" letter-spacing="0.25" fill="#111" text-anchor="middle">Structural features predicted in kinases</text>
<rect x="403" y="762.1" width="56.60000000000002" height="20.5" fill="#000"/>
<rect x="401" y="760.1" width="56.60000000000002" height="20.5" fill="#7EB3E4"/>
<rect x="403" y="815.2" width="62.60000000000002" height="20.399999999999977" fill="#000"/>
<rect x="401" y="813.2" width="62.60000000000002" height="20.399999999999977" fill="#7EB3E4"/>
<rect x="403" y="867.8" width="170.0" height="20.5" fill="#000"/>
<rect x="401" y="865.8" width="170.0" height="20.5" fill="#7EB3E4"/>
<g font-family="Liberation Sans" font-size="8.6" fill="#111" text-anchor="end">
<text x="395" y="773.7">Signal peptide</text>
<text x="395" y="826.5">Disulphide bridge</text>
<text x="395" y="874.6">Transmembrane</text>
</g>
<text x="364" y="884.6" font-family="Liberation Sans" font-size="8.6" fill="#111" text-anchor="middle">domain</text>
<text x="401.0" y="917.5" font-family="Liberation Sans" font-size="8.6" fill="#111" text-anchor="middle">0%</text>
<text x="442.6" y="917.5" font-family="Liberation Sans" font-size="8.6" fill="#111" text-anchor="middle">10%</text>
<text x="484.2" y="917.5" font-family="Liberation Sans" font-size="8.6" fill="#111" text-anchor="middle">20%</text>
<text x="525.8" y="917.5" font-family="Liberation Sans" font-size="8.6" fill="#111" text-anchor="middle">30%</text>
<text x="567.4" y="917.5" font-family="Liberation Sans" font-size="8.6" fill="#111" text-anchor="middle">40%</text>
<text x="609.0" y="917.5" font-family="Liberation Sans" font-size="8.6" fill="#111" text-anchor="middle">50%</text>
</svg>
</body></html>
